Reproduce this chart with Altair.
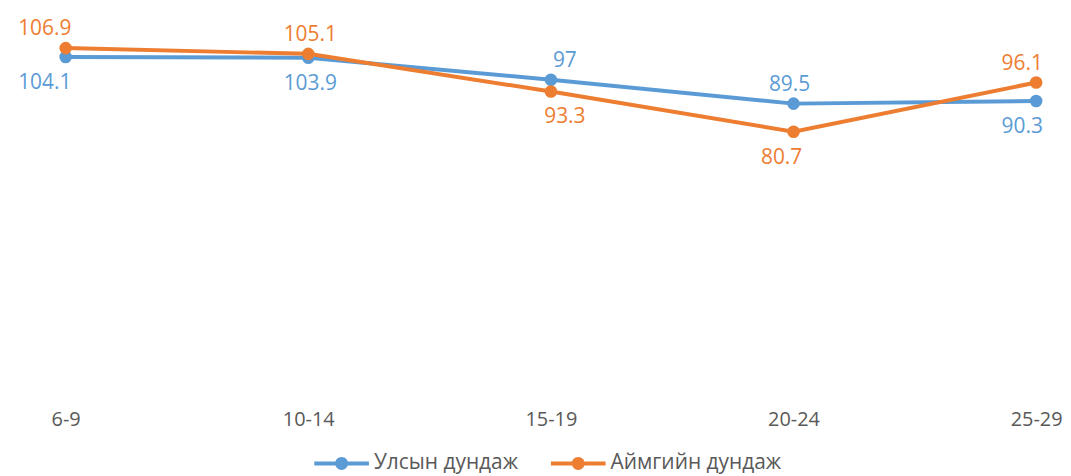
import altair as alt
import pandas as pd

ages = ["6-9", "10-14", "15-19", "20-24", "25-29"]
national = [104.1, 103.9, 97, 89.5, 90.3]
aimag = [106.9, 105.1, 93.3, 80.7, 96.1]
national_label_side = ["below", "below", "above", "above", "below"]
aimag_label_side = ["above", "above", "below", "below", "above"]
series_names = ["Улсын дундаж", "Аймгийн дундаж"]
colors = ["#5B9BD5", "#ED7D31"]

rows = []
for name, vals, sides in [
    (series_names[0], national, national_label_side),
    (series_names[1], aimag, aimag_label_side),
]:
    for a, v, s in zip(ages, vals, sides):
        rows.append({"age": a, "value": v, "series": name, "side": s, "label": f"{v:g}"})
df = pd.DataFrame(rows)

FONT = "Open Sans"

x = alt.X(
    "age:N", sort=ages,
    scale=alt.Scale(type="point", padding=0),
    axis=alt.Axis(title=None, labelAngle=0, domain=False, ticks=False, grid=False,
                  labelPadding=21, labelFontSize=20, labelColor="#595959", labelFont=FONT),
)
y = alt.Y("value:Q", scale=alt.Scale(domain=[0, 117.5], nice=False, zero=True), axis=None)
cscale = alt.Scale(domain=series_names, range=colors)

legend_symbol = ("M-2.75,-0.2 L2.75,-0.2 L2.75,0.2 L-2.75,0.2 Z "
                 "M-0.65,0 A0.65,0.65 0 1,1 0.65,0 A0.65,0.65 0 1,1 -0.65,0 Z")

base = alt.Chart(df).encode(x=x, y=y)

lines = base.mark_line(strokeWidth=4).encode(
    color=alt.Color("series:N", scale=cscale, sort=series_names, legend=None)
)
points = base.mark_circle(size=160, opacity=1).encode(
    color=alt.Color(
        "series:N", scale=cscale, sort=series_names,
        legend=alt.Legend(
            title=None, orient="none", direction="horizontal",
            legendX=249, legendY=441,
            symbolType=legend_symbol, symbolSize=400, symbolStrokeWidth=0,
            symbolOffset=18, labelOffset=22, labelLimit=400,
            labelFont=FONT, labelFontSize=21, labelColor="#595959",
            columnPadding=32,
        ),
    )
)

dx_expr = ("datum.age == '6-9' ? -21 : datum.age == '25-29' ? -14 : "
           "datum.age == '15-19' ? 14 : datum.age == '20-24' ? (datum.side == 'above' ? -4 : -12) : 2")

labels_base = base.transform_calculate(dx=dx_expr).encode(
    text="label:N",
    xOffset=alt.XOffset("dx:Q", scale=None),
    color=alt.Color("series:N", scale=cscale, sort=series_names, legend=None),
)
text_above = labels_base.transform_filter("datum.side == 'above'").mark_text(
    dy=-19, fontSize=21, font=FONT)
text_below = labels_base.transform_filter("datum.side == 'below'").mark_text(
    dy=26, fontSize=21, font=FONT)

chart = (
    alt.layer(lines, points, text_above, text_below)
    .resolve_legend(color="independent")
    .properties(
        width=976, height=377,
        padding={"left": 58, "top": 5, "right": 27, "bottom": 86},
        autosize=alt.AutoSizeParams(type="none"),
    )
    .configure_view(stroke=None)
)

chart.save("out.html", embed_options={"renderer": "svg", "actions": False})
